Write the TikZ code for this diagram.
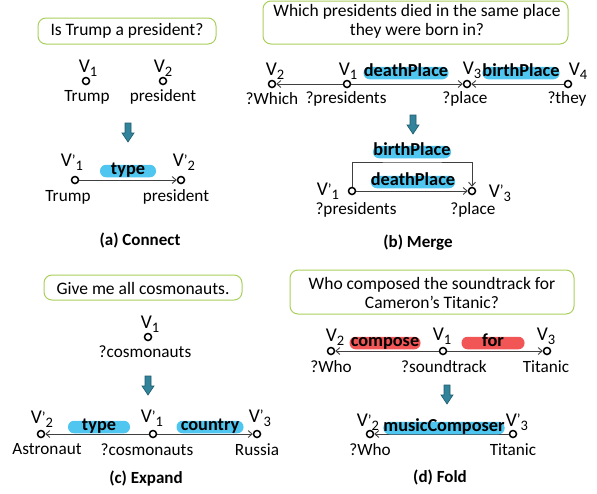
\documentclass[tikz,border=0pt]{standalone}
\usepackage{fontspec}
\setmainfont{Carlito}
\usetikzlibrary{arrows.meta}
\definecolor{boxgreen}{HTML}{A9D05C}
\definecolor{pillblue}{HTML}{4FC6F0}
\definecolor{pillred}{HTML}{F25555}
\definecolor{arrteal}{HTML}{31849B}
\definecolor{arrdark}{HTML}{1E5C6C}
\definecolor{edgegray}{HTML}{404040}
\tikzset{
  vtx/.style={circle,draw=black,fill=white,line width=1.5pt,minimum size=7pt,inner sep=0pt},
  vlab/.style={font=\fontsize{19.5}{20}\selectfont,inner sep=0pt},
  txt/.style={font=\fontsize{17.2}{18}\selectfont,inner sep=0pt},
  qbox/.style={draw=boxgreen,line width=1pt,rounded corners=8pt,fill=white},
  qtxt/.style={font=\fontsize{17.5}{19}\selectfont,inner sep=0pt,align=center},
  pill/.style={fill=pillblue,rounded corners=6pt,minimum height=12.5pt,inner sep=0pt,
     text height=8pt,text depth=1pt,font=\fontsize{18.3}{19}\selectfont\bfseries},
  rpill/.style={pill,fill=pillred},
  edge/.style={draw=edgegray,line width=0.9pt,-{Straight Barb[length=4pt,width=7pt]}},
  captxt/.style={font=\fontsize{17}{18}\selectfont\bfseries,inner sep=0pt},
}
\newcommand{\Vs}[1]{V\raisebox{-0.4ex}{\fontsize{14.5}{15}\selectfont #1}}
\newcommand{\Vp}[1]{V\raisebox{0.15ex}{\fontsize{15}{15}\selectfont '}\raisebox{-0.4ex}{\fontsize{14.5}{15}\selectfont #1}}
\newcommand{\downarr}[2]{\draw[fill=arrteal,draw=arrdark,line width=0.6pt]
  (#1-3,#2) -- (#1+3,#2) -- (#1+3,#2+10) -- (#1+6,#2+10) -- (#1,#2+19) -- (#1-6,#2+10) -- (#1-3,#2+10) -- cycle;}
\begin{document}
\begin{tikzpicture}[x=1pt,y=-1pt]
\useasboundingbox (0,0) rectangle (597,493);
% ---------------- (a) Connect
\draw[qbox] (38,18) rectangle (216,44);
\node[qtxt] (qa) at (127,31) {Is Trump a president?};
\node[vtx] (a1) at (86,81) {};
\node[vlab] (a1l) at (88,68) {\Vs{1}};
\node[txt] (a1t) at (87,97) {Trump};
\node[vtx] (a2) at (163,81) {};
\node[vlab] (a2l) at (163,68) {\Vs{2}};
\node[txt] (a2t) at (163,97) {president};
\downarr{128}{123}
\node[vtx] (ap1) at (75,180) {};
\node[vtx] (ap2) at (181,180) {};
\draw[edge] (ap1) -- (ap2);
\node[vlab] (ap1l) at (72,162) {\Vp{1}};
\node[vlab] (ap2l) at (184,162) {\Vp{2}};
\node[txt] (ap1t) at (68,197) {Trump};
\node[txt] (ap2t) at (176,197) {president};
\node[pill,minimum width=56pt] (atype) at (128,171) {type};
\node[captxt] (capa) at (140,240) {(a) Connect};
% ---------------- (b) Merge
\draw[qbox] (263,1) rectangle (568,44);
\node[qtxt] (qb) at (417,21) {Which presidents died in the same place\\they were born in?};
\node[vtx] (b2) at (272,84) {};
\node[vtx] (b1) at (347,84) {};
\node[vtx] (b3) at (467,84) {};
\node[vtx] (b4) at (568,84) {};
\draw[edge] (b1) -- (b2);
\draw[edge] (b1) -- (b3);
\draw[edge] (b4) -- (b3);
\node[vlab] (b2l) at (275,71) {\Vs{2}};
\node[vlab] (b1l) at (348,71) {\Vs{1}};
\node[vlab] (b3l) at (472,70) {\Vs{3}};
\node[vlab] (b4l) at (578,71) {\Vs{4}};
\node[txt] (b2t) at (272,99) {?Which};
\node[txt] (b1t) at (346,99) {?presidents};
\node[txt] (b3t) at (465,99) {?place};
\node[txt] (b4t) at (567,99) {?they};
\node[pill,minimum width=85pt] (bdp) at (406,73) {deathPlace};
\node[pill,minimum width=76pt] (bbp) at (521,73) {birthPlace};
\downarr{413}{115}
\node[vtx] (m1) at (352,191) {};
\node[vtx] (m3) at (472,191) {};
\draw[edge] (m1) -- (m3);
\draw[edge] (m1.north) |- (412,162) -| (m3.north);
\node[pill,minimum width=78pt] (mbp) at (412,152) {birthPlace};
\node[pill,minimum width=80pt] (mdp) at (413,182) {deathPlace};
\node[vlab] (m1l) at (328,191) {\Vp{1}};
\node[vlab] (m3l) at (500,193) {\Vp{3}};
\node[txt] (m1t) at (356,210) {?presidents};
\node[txt] (m3t) at (473,210) {?place};
\node[captxt] (capb) at (418,243) {(b) Merge};
% ---------------- (c) Expand
\draw[qbox] (44,275) rectangle (242,300);
\node[qtxt] (qc) at (143,288) {Give me all cosmonauts.};
\node[vtx] (c0) at (148,337) {};
\node[vlab] (c0l) at (150,324) {\Vs{1}};
\node[txt] (c0t) at (145,352) {?cosmonauts};
\downarr{148}{376}
\node[vtx] (c2) at (41,434) {};
\node[vtx] (c1) at (153,434) {};
\node[vtx] (c3) at (257,434) {};
\draw[edge] (c1) -- (c2);
\draw[edge] (c1) -- (c3);
\node[vlab] (c2l) at (42,419) {\Vp{2}};
\node[vlab] (c1l) at (152,418) {\Vp{1}};
\node[vlab] (c3l) at (260,418) {\Vp{3}};
\node[txt] (c2t) at (47,449) {Astronaut};
\node[txt] (c1t) at (147,450) {?cosmonauts};
\node[txt] (c3t) at (257,450) {Russia};
\node[pill,minimum width=62pt] (ctype) at (99,427) {type};
\node[pill,minimum width=67pt] (ccountry) at (210,427) {country};
\node[captxt] (capc) at (146,479) {(c) Expand};
% ---------------- (d) Fold
\draw[qbox] (290,270) rectangle (574,314);
\node[qtxt] (qd) at (432,293) {Who composed the soundtrack for\\Cameron's Titanic?};
\node[vtx] (d2) at (331,351) {};
\node[vtx] (d1) at (443,351) {};
\node[vtx] (d3) at (547,351) {};
\draw[edge] (d1) -- (d2);
\draw[edge] (d1) -- (d3);
\node[vlab] (d2l) at (335,337) {\Vs{2}};
\node[vlab] (d1l) at (442,336) {\Vs{1}};
\node[vlab] (d3l) at (546,336) {\Vs{3}};
\node[txt] (d2t) at (331,367) {?Who};
\node[txt] (d1t) at (444,367) {?soundtrack};
\node[txt] (d3t) at (546,367) {Titanic};
\node[rpill,minimum width=71pt] (dcomp) at (385,343) {compose};
\node[rpill,minimum width=63pt] (dfor) at (493,343) {for};
\downarr{447}{385}
\node[vtx] (f2) at (370,434) {};
\node[vtx] (f3) at (513,434) {};
\draw[edge] (f3) -- (f2);
\node[vlab] (f2l) at (368,422) {\Vp{2}};
\node[vlab] (f3l) at (517,422) {\Vp{3}};
\node[txt] (f2t) at (370,450) {?Who};
\node[txt] (f3t) at (513,450) {Titanic};
\node[pill,minimum width=117pt] (fmc) at (444,428) {musicComposer};
\node[captxt] (capd) at (440,477) {(d) Fold};
\end{tikzpicture}
\end{document}
